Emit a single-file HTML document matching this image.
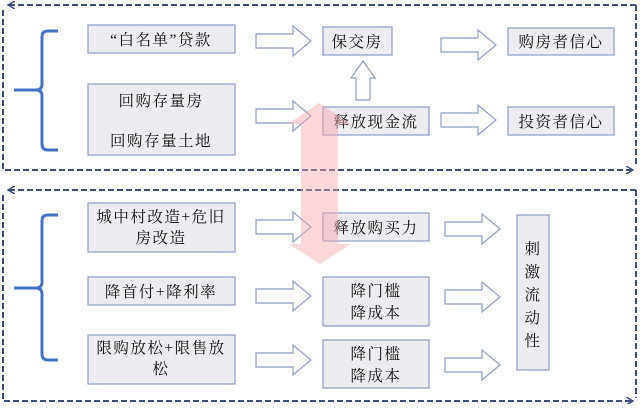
<!DOCTYPE html>
<html><head><meta charset="utf-8"><style>
html,body{margin:0;padding:0;background:#fff;}
svg text{font-family:"Liberation Serif","Noto Serif CJK SC",serif;font-size:15.5px;letter-spacing:1.5px;fill:#111;}
</style></head><body>
<svg width="640" height="404" viewBox="0 0 640 404" xmlns="http://www.w3.org/2000/svg">
<defs>
<marker id="ah" markerWidth="8" markerHeight="8" refX="7" refY="4" orient="auto" markerUnits="userSpaceOnUse"><path d="M0,0 L7,4 L0,8" fill="none" stroke="#3a4e80" stroke-width="1.5"/></marker>
</defs>
<g stroke="#3a4e80" stroke-width="2" stroke-dasharray="6,3" fill="none">
<path d="M636,5 L8,5" marker-end="url(#ah)"/>
<path d="M636,5 L636,165"/>
<path d="M3,10 L3,170 L633,170" marker-end="url(#ah)"/>
<path d="M636,190 L8,190" marker-end="url(#ah)"/>
<path d="M636,190 L636,398"/>
<path d="M3,195 L3,401 L633,401" marker-end="url(#ah)"/>
</g>
<!-- braces -->
<g stroke="#4472c4" stroke-width="3" fill="none">
<path d="M58,31 L48,31 Q42,31 42,37 L42,84 Q42,90 36,90 L14,90 M36,90 Q42,90 42,96 L42,144 Q42,150 48,150 L58,150"/>
<path d="M58,215 L48,215 Q42,215 42,221 L42,282 Q42,288 36,288 L14,288 M36,288 Q42,288 42,294 L42,354 Q42,360 48,360 L58,360"/>
</g>
<!-- boxes -->
<g fill="#ececf1" stroke="#8b9dc8" stroke-width="1.2">
<rect x="88" y="25" width="147" height="28"/>
<rect x="88" y="84" width="147" height="71"/>
<rect x="323" y="27" width="69" height="28"/>
<rect x="323" y="107" width="106" height="28"/>
<rect x="508" y="28" width="106" height="27"/>
<rect x="508" y="107" width="106" height="28"/>
<rect x="88" y="203" width="147" height="49"/>
<rect x="88" y="277" width="147" height="28"/>
<rect x="88" y="335" width="147" height="49"/>
<rect x="323" y="213" width="106" height="28"/>
<rect x="323" y="277" width="106" height="49"/>
<rect x="323" y="340" width="106" height="48"/>
<rect x="517" y="215" width="32" height="155"/>
</g>
<!-- hollow arrows -->
<g fill="#fff" stroke="#8b9dc8" stroke-width="1.2">
<path id="a" d="M0,8 L37,8 L37,0 L55,15 L37,30 L37,22 L0,22 Z" transform="translate(256,26)"/>
<use href="#a" transform="translate(0,75)"/>
<use href="#a" transform="translate(185,4)"/>
<use href="#a" transform="translate(185,79)"/>
<use href="#a" transform="translate(0,186)"/>
<use href="#a" transform="translate(0,255)"/>
<use href="#a" transform="translate(0,319)"/>
<use href="#a" transform="translate(189,188)"/>
<use href="#a" transform="translate(189,256)"/>
<use href="#a" transform="translate(189,324)"/>
<path d="M356,100 L356,78 L351,78 L363,61 L375,78 L370,78 L370,100 Z"/>
</g>
<g text-anchor="middle">
<text x="161" y="45">“白名单”贷款</text>
<text x="161" y="106">回购存量房</text>
<text x="161" y="146">回购存量土地</text>
<text x="357" y="47">保交房</text>
<text x="376" y="127">释放现金流</text>
<text x="561" y="47">购房者信心</text>
<text x="561" y="127">投资者信心</text>
<text x="161" y="222">城中村改造+危旧</text>
<text x="161" y="243">房改造</text>
<text x="161" y="297">降首付+降利率</text>
<text x="161" y="353">限购放松+限售放</text>
<text x="161" y="374">松</text>
<text x="376" y="233">释放购买力</text>
<text x="376" y="296">降门槛</text>
<text x="376" y="318">降成本</text>
<text x="376" y="359">降门槛</text>
<text x="376" y="381">降成本</text>
<text x="533" y="254">刺</text>
<text x="533" y="277">激</text>
<text x="533" y="300">流</text>
<text x="533" y="323">动</text>
<text x="533" y="346">性</text>
</g>
<!-- pink double arrow on top -->
<path d="M319,103 L351,124 L338,124 L338,244 L351,244 L320,264 L289,244 L301,244 L301,124 L288,124 Z" fill="#f7a6ad" opacity="0.45"/>
</svg>
</body></html>
